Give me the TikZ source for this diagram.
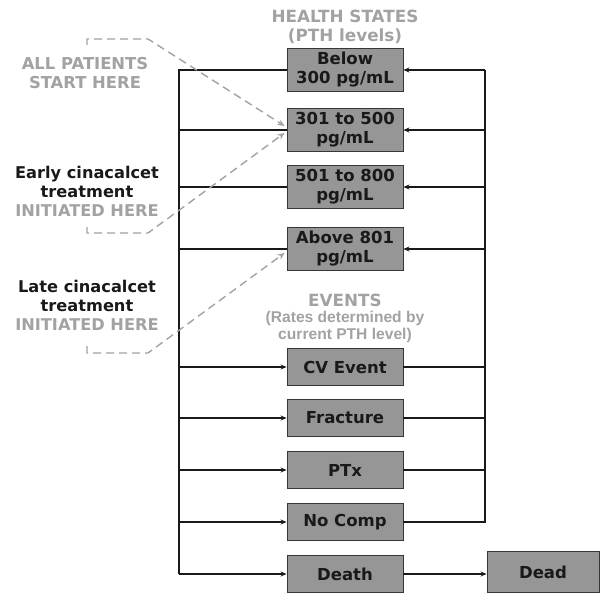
\documentclass[tikz,border=0pt]{standalone}
\usepackage{fontspec}
\setmainfont{DejaVu Sans}
\newfontfamily\ratefont{Liberation Sans}
\usepackage{xcolor}
\usepackage{tikz}
\usetikzlibrary{arrows.meta,calc}
\definecolor{cuegray}{RGB}{162,162,162}
\definecolor{boxfill}{RGB}{150,150,150}
\definecolor{boxline}{RGB}{55,55,55}

\begin{document}
\begin{tikzpicture}[x=1pt,y=-1pt,
  state/.style={draw=boxline,fill=boxfill,line width=0.9pt,minimum width=116pt,minimum height=43pt,
    inner sep=0pt,align=center,text=black!90,font=\fontsize{16.5}{19}\selectfont\bfseries},
  event/.style={state,minimum height=37pt},
  head/.style={align=center,text=cuegray,font=\fontsize{16.8}{19}\selectfont\bfseries},
  note/.style={align=center,text=black!90,font=\fontsize{16.2}{19}\selectfont\bfseries},
  link/.style={line width=1.4pt,black!90},
  tip/.style={link,-{Stealth[length=6pt,width=5pt]}},
  cue/.style={cuegray,line width=1.4pt,dash pattern=on 8pt off 5pt,-{Stealth[length=7pt,width=6pt]}}]
  \useasboundingbox (0,0) rectangle (600,594);

  \node[state] (s1) at (345,70) {Below\\300 pg/mL};
  \node[state] (s2) at (345,130) {301 to 500\\pg/mL};
  \node[state] (s3) at (345,187) {501 to 800\\pg/mL};
  \node[state] (s4) at (345,249) {Above 801\\pg/mL};
  \foreach \n/\y/\t in {e1/367/CV Event,e2/418/Fracture,e3/470/PTx,e4/522/No Comp,e5/574/Death}
    \node[event] (\n) at (345,\y) {\t};
  \node[event,minimum width=112pt,minimum height=41pt] (dead) at (543,572) {Dead};

  \node[head] (hs) at (345,27) {HEALTH STATES\\(PTH levels)};
  \node[head] (ev) at (345,300) {EVENTS};
  \node[head,font=\fontsize{15.6}{17.5}\ratefont\bfseries] (evr) at (345,327) {(Rates determined by\\current PTH level)};

  \node[head,font=\fontsize{16.4}{19}\selectfont\bfseries] (all) at (85,73) {ALL PATIENTS\\START HERE};
  \node[note] (early) at (87,191) {Early cinacalcet\\treatment\\\textcolor{cuegray}{INITIATED HERE}};
  \node[note] (late) at (87,305) {Late cinacalcet\\treatment\\\textcolor{cuegray}{INITIATED HERE}};

  \coordinate (lt) at (179,0);
  \coordinate (rt) at (485,0);
  \draw[link] (s1.west) -- (s1.west -| lt) -- (e5.west -| lt);
  \foreach \n in {s2,s3,s4}
    \draw[link] (\n.west) -- (\n.west -| lt);
  \foreach \n in {e1,e2,e3,e4,e5}
    \draw[tip] (\n.west -| lt) -- (\n.west);
  \draw[link] (e4.east) -- (e4.east -| rt) -- (s1.east -| rt);
  \foreach \n in {e1,e2,e3}
    \draw[link] (\n.east) -- (\n.east -| rt);
  \foreach \n in {s1,s2,s3,s4}
    \draw[tip] (\n.east -| rt) -- (\n.east);
  \draw[tip] (e5.east) -- (e5.east -| dead.west);

  \coordinate (c1) at (87,45);
  \coordinate (c2) at (87,227);
  \coordinate (c3) at (87,346);
  \draw[cue] (c1) -- (87,39) -- (148,39) -- ([yshift=4pt,xshift=-2pt]s2.west);
  \draw[cue] (c2) -- (87,233) -- (148,233) -- ([yshift=-3pt,xshift=-2pt]s2.west);
  \draw[cue] (c3) -- (87,353) -- (148,353) -- ([yshift=-4pt,xshift=-2pt]s4.west);
\end{tikzpicture}
\end{document}
